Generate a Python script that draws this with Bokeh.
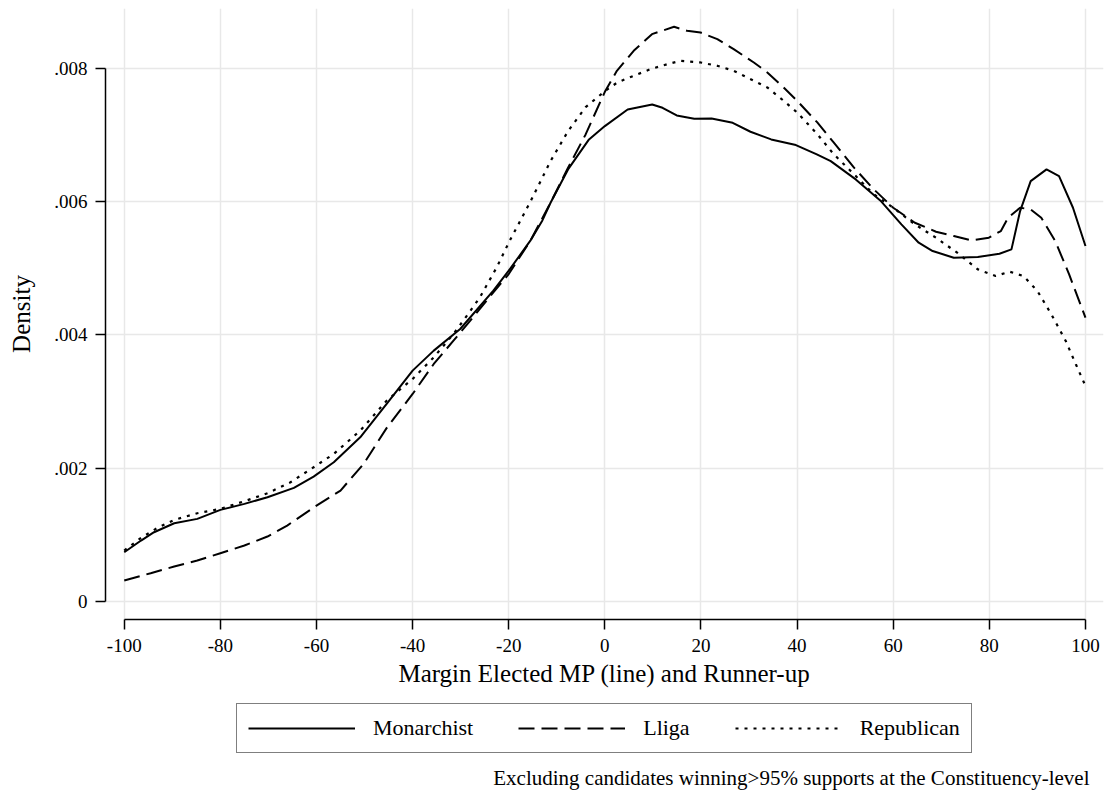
from bokeh.plotting import figure
from bokeh.models import (Range1d, FixedTicker, CustomJSTickFormatter, Legend, LegendItem, Label)
from bokeh.layouts import column
from bokeh.embed import file_html
from bokeh.resources import INLINE

# ---- data (density in units of 0.001) ----
mon_x = [-100, -96.5, -93.8, -89.6, -84.8, -80, -75, -70.2, -64.7, -60.6, -56.4, -50.9, -45.4, -40,
         -35.6, -30.1, -23.2, -20, -15.5, -13, -11.3, -7.66, -3.3, 0, 4.74, 9.85, 12.0, 14.95, 18.6,
         22.2, 26.6, 30.3, 34.6, 39.75, 44.1, 47.0, 52.2, 57.3, 61.7, 65.3, 68.2, 72.6, 77.6, 82.1,
         84.6, 86.4, 88.6, 91.9, 94.5, 97.4, 100]
mon_y = [0.74, 0.915, 1.04, 1.175, 1.24, 1.375, 1.465, 1.565, 1.705, 1.875, 2.09, 2.465, 2.965, 3.465,
         3.765, 4.09, 4.665, 4.965, 5.415, 5.72, 5.985, 6.485, 6.935, 7.135, 7.385, 7.46, 7.41, 7.295, 7.245,
         7.25, 7.185, 7.05, 6.935, 6.85, 6.71, 6.61, 6.335, 6.02, 5.66, 5.385, 5.26, 5.16, 5.17, 5.22,
         5.285, 5.86, 6.31, 6.485, 6.385, 5.91, 5.335]

lli_x = [-100, -94.5, -89.6, -84.8, -80, -75, -70.2, -66.1, -60, -55, -50.2, -45.3, -40, -35.6, -31.5,
         -28, -23.2, -20, -15.5, -11.3, -7.66, -4.0, 0, 2.5, 6.0, 9.8, 14.4, 17.1, 19.9, 23.4, 26.8, 31.0,
         33.8, 37.2, 40, 44.2, 47.6, 51.8, 55.9, 60, 64.5, 68.9, 72.6, 76.2, 79.9, 82.4, 83.9, 86.4,
         88.6, 90.8, 93.7, 96.6, 100]
lli_y = [0.315, 0.425, 0.525, 0.615, 0.725, 0.84, 0.975, 1.14, 1.44, 1.665, 2.065, 2.615, 3.115, 3.565, 3.915,
         4.215, 4.64, 4.915, 5.415, 5.985, 6.51, 7.01, 7.65, 7.965, 8.265, 8.515, 8.625, 8.565, 8.54, 8.44, 8.29, 8.09,
         7.94, 7.715, 7.515, 7.19, 6.89, 6.515, 6.19, 5.91, 5.685, 5.55, 5.485, 5.42, 5.46, 5.56, 5.76, 5.91,
         5.885, 5.76, 5.41, 4.91, 4.26]

rep_x = [-100, -96.5, -93.1, -89.6, -84.8, -80, -75, -70.2, -65.4, -60.6, -56.4, -50.9, -45.4, -40, -35.6,
         -31.5, -28.7, -26, -22.5, -19.8, -15.5, -11.3, -7.66, -4.0, 0, 2.6, 6.0, 9.5, 13.0, 15.7, 19.9,
         23.4, 26.8, 31.0, 33.8, 37.2, 40, 44.2, 47.6, 51.8, 55.9, 60, 64.5, 68.9, 73.3, 77.6, 81.3, 84.2,
         87.1, 90.0, 92.9, 95.9, 98.0, 100]
rep_y = [0.765, 0.955, 1.105, 1.225, 1.325, 1.39, 1.505, 1.625, 1.79, 2.015, 2.215, 2.565, 3.015, 3.34, 3.665,
         4.015, 4.29, 4.565, 5.015, 5.415, 6.0, 6.61, 7.06, 7.42, 7.66, 7.79, 7.89, 7.99, 8.065, 8.115, 8.09,
         8.04, 7.965, 7.815, 7.715, 7.515, 7.34, 7.015, 6.715, 6.415, 6.115, 5.91, 5.66, 5.46, 5.235, 4.985, 4.885, 4.95,
         4.885, 4.66, 4.31, 3.91, 3.56, 3.235]

x_ticks = [-100, -80, -60, -40, -20, 0, 20, 40, 60, 80, 100]
y_ticks = [0, 0.002, 0.004, 0.006, 0.008]
series_names = ["Monarchist", "Lliga", "Republican"]
caption = "Excluding candidates winning>95% supports at the Constituency-level"

FONT = "Liberation Serif"
DASH = "16 7"
DOT = "3 6"

p = figure(width=1105, height=700, output_backend="svg", toolbar_location=None,
           x_range=Range1d(-103.9, 103.75), y_range=Range1d(-0.00027, 0.0089),
           min_border_left=105, min_border_right=2, min_border_top=8, min_border_bottom=81)
p.outline_line_color = None
p.background_fill_color = "white"
p.border_fill_color = "white"

def scale(v):
    return [a / 1000.0 for a in v]

r1 = p.line(mon_x, scale(mon_y), line_color="black", line_width=2)
r2 = p.line(lli_x, scale(lli_y), line_color="black", line_width=2, line_dash=DASH)
r3 = p.line(rep_x, scale(rep_y), line_color="black", line_width=2.2, line_dash=DOT)

p.xaxis.ticker = FixedTicker(ticks=x_ticks)
p.yaxis.ticker = FixedTicker(ticks=y_ticks)
p.xgrid.ticker = FixedTicker(ticks=x_ticks)
p.ygrid.ticker = FixedTicker(ticks=y_ticks)
for g in (p.xgrid, p.ygrid):
    g.grid_line_color = "#e8e8e8"
    g.grid_line_width = 1.5

p.yaxis.formatter = CustomJSTickFormatter(code="""
    if (Math.abs(tick) < 1e-12) return "0";
    return tick.toFixed(3).replace(/^0/, "");
""")
p.xaxis.formatter = CustomJSTickFormatter(code="return String(Math.round(tick));")

for ax in (p.xaxis, p.yaxis):
    ax.axis_line_color = "black"
    ax.axis_line_width = 1.5
    ax.major_tick_line_color = "black"
    ax.major_tick_line_width = 1.5
    ax.major_tick_out = 10
    ax.major_tick_in = 0
    ax.minor_tick_line_color = None
    ax.major_label_text_font = FONT
    ax.major_label_text_font_size = "19px"
    ax.major_label_text_color = "black"
    ax.axis_label_text_font = FONT
    ax.axis_label_text_font_size = "25px"
    ax.axis_label_text_font_style = "normal"
    ax.axis_label_text_color = "black"

p.xaxis.bounds = (-100, 100)
p.yaxis.bounds = (0, 0.008)
p.xaxis.axis_label = "Margin Elected MP (line) and Runner-up"
p.yaxis.axis_label = "Density"
p.xaxis.major_label_standoff = 9
p.yaxis.major_label_standoff = 8
p.xaxis.axis_label_standoff = 5
p.yaxis.axis_label_standoff = 16

# ---- legend + caption strip (frame aligned with the main plot frame) ----
p2 = figure(width=1105, height=94, output_backend="svg", toolbar_location=None,
            x_range=Range1d(0, 1), y_range=Range1d(0, 1),
            min_border_left=105, min_border_right=2, min_border_top=0, min_border_bottom=0)
p2.axis.visible = False
p2.grid.visible = False
p2.outline_line_color = None
p2.background_fill_color = "white"
p2.border_fill_color = "white"

# off-screen carriers for the legend glyphs
l1 = p2.line([5, 6], [5, 6], line_color="black", line_width=2)
l2 = p2.line([5, 6], [5, 6], line_color="black", line_width=2, line_dash=DASH)
l3 = p2.line([5, 6], [5, 6], line_color="black", line_width=2.2, line_dash=DOT)

legend = Legend(items=[LegendItem(label=series_names[0], renderers=[l1]),
                       LegendItem(label=series_names[1], renderers=[l2]),
                       LegendItem(label=series_names[2], renderers=[l3])],
                orientation="horizontal", location=(131, 41))
legend.border_line_color = "black"
legend.border_line_width = 1.5
legend.label_text_font = FONT
legend.label_text_font_size = "22px"
legend.label_text_color = "black"
legend.glyph_width = 107
legend.glyph_height = 22
legend.label_standoff = 18
legend.spacing = 45
legend.padding = 11
legend.margin = 0
p2.add_layout(legend, "center")

cap = Label(x=984, y=17, x_units="screen", y_units="screen", text=caption,
            text_align="right", text_baseline="middle", text_font=FONT,
            text_font_size="21px", text_color="black")
p2.add_layout(cap)

open("out.html", "w").write(file_html(column(p, p2, spacing=0), INLINE))
